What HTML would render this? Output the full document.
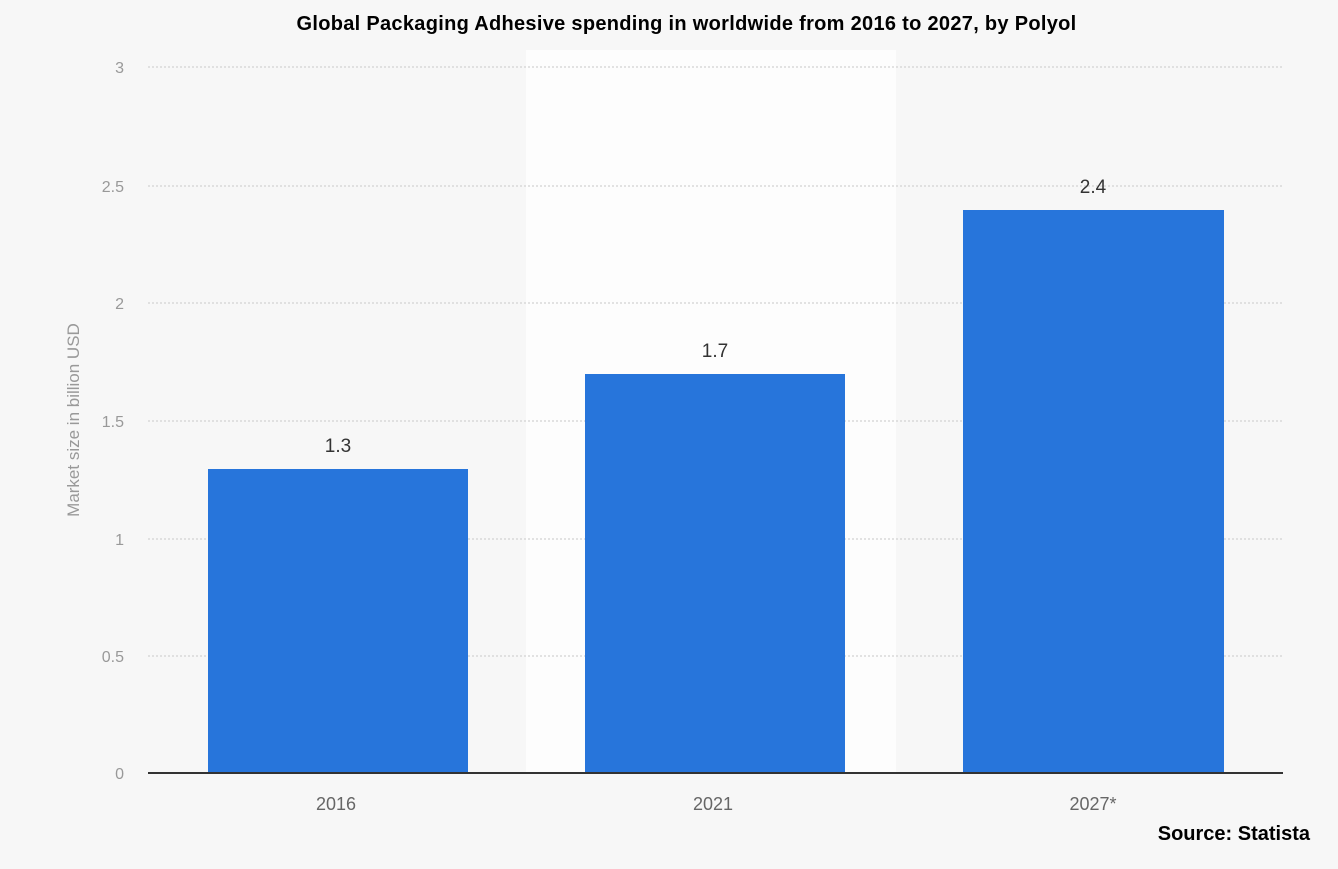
<!DOCTYPE html>
<html><head><style>
body{margin:0;width:1338px;height:869px;background:#f7f7f7;position:relative;overflow:hidden;font-family:"Liberation Sans",sans-serif}
.t{position:absolute;top:13px;left:285px;width:803px;text-align:center;font-weight:bold;font-size:20px;color:#000;letter-spacing:0.3px;white-space:nowrap}
</style></head><body>
<div class="t">Global Packaging Adhesive spending in worldwide from 2016 to 2027, by Polyol</div>
<svg width="1338" height="869" style="position:absolute;left:0;top:0">
<rect x="526" y="50" width="370" height="723" fill="#fdfdfd"/>
<g stroke="#c8c8c8" stroke-dasharray="2,2" stroke-width="1">
<line x1="148" x2="1283" y1="67" y2="67"/><line x1="148" x2="1283" y1="186" y2="186"/>
<line x1="148" x2="1283" y1="303" y2="303"/><line x1="148" x2="1283" y1="421" y2="421"/>
<line x1="148" x2="1283" y1="539" y2="539"/><line x1="148" x2="1283" y1="656" y2="656"/>
</g>
<g fill="#999" font-size="16" text-anchor="end">
<text x="124" y="73">3</text><text x="124" y="192">2.5</text><text x="124" y="309">2</text>
<text x="124" y="427">1.5</text><text x="124" y="545">1</text><text x="124" y="662">0.5</text><text x="124" y="779">0</text>
</g>
<text transform="translate(79,420) rotate(-90)" text-anchor="middle" fill="#999" font-size="17">Market size in billion USD</text>
<g fill="#2775db">
<rect x="208" y="469" width="260" height="304"/>
<rect x="585" y="374" width="260" height="399"/>
<rect x="963" y="210" width="261" height="563"/>
</g>
<line x1="148" x2="1283" y1="773" y2="773" stroke="#333" stroke-width="2"/>
<g fill="#333" font-size="19" text-anchor="middle">
<text x="338" y="452">1.3</text><text x="715" y="357">1.7</text><text x="1093" y="193">2.4</text>
</g>
<g fill="#666" font-size="18" text-anchor="middle">
<text x="336" y="810">2016</text><text x="713" y="810">2021</text><text x="1093" y="810">2027*</text>
</g>
<text x="1310" y="840" text-anchor="end" font-weight="bold" font-size="20" fill="#000">Source: Statista</text>
</svg>
</body></html>
